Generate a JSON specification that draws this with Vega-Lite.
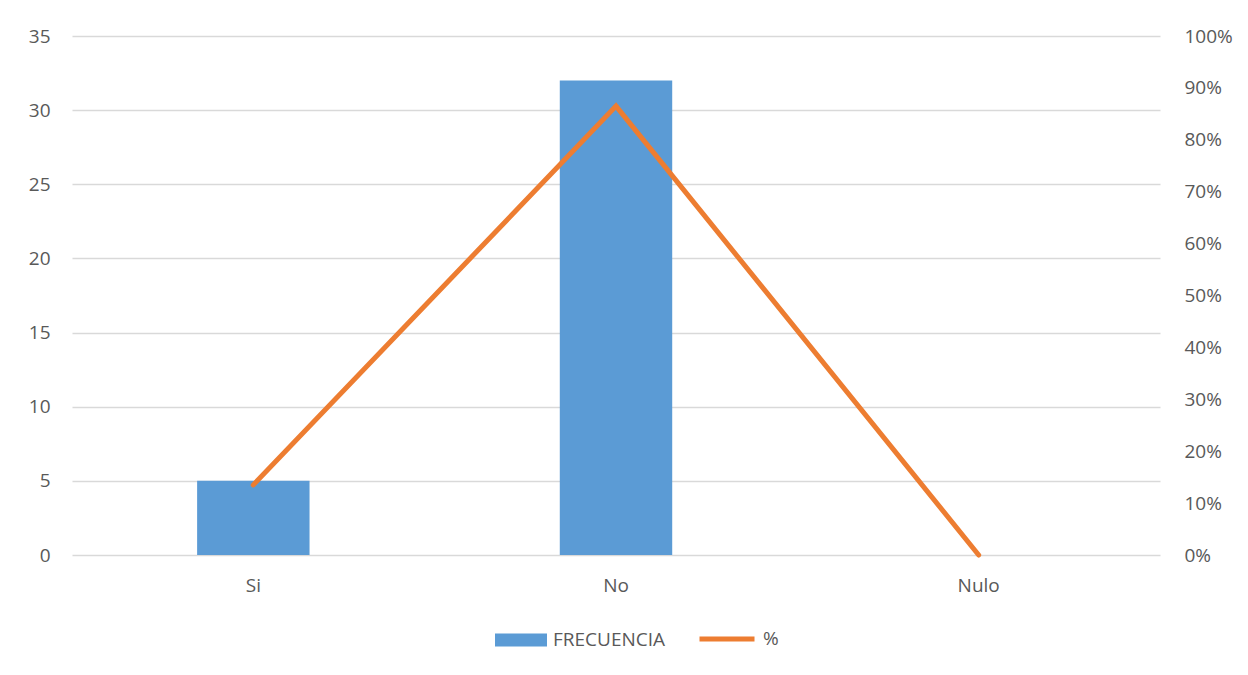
{
  "$schema": "https://vega.github.io/schema/vega-lite/v6.json",
  "width": 1088,
  "height": 519,
  "autosize": {"type": "none"},
  "padding": {"left": 72, "top": 36, "right": 88, "bottom": 120},
  "background": "white",
  "config": {
    "view": {"stroke": null},
    "font": "Open Sans",
    "axis": {"labelFont": "Open Sans", "labelFontSize": 19, "labelColor": "#595959", "domain": false, "ticks": false},
    "legend": {"labelFont": "Open Sans", "labelFontSize": 19, "labelColor": "#595959", "labelOffset": 6}
  },
  "data": {
    "values": [
      {"cat": "Si", "frecuencia": 5, "pct": 0.1351},
      {"cat": "No", "frecuencia": 32, "pct": 0.8649},
      {"cat": "Nulo", "frecuencia": 0, "pct": 0}
    ]
  },
  "encoding": {
    "x": {
      "field": "cat", "type": "nominal", "sort": ["Si", "No", "Nulo"],
      "scale": {"paddingInner": 0.69, "paddingOuter": 0.345},
      "axis": {"title": null, "labelAngle": 0, "labelPadding": 21, "grid": false}
    }
  },
  "layer": [
    {
      "mark": {"type": "bar", "color": "#5B9BD5"},
      "encoding": {
        "y": {
          "field": "frecuencia", "type": "quantitative",
          "scale": {"domain": [0, 35], "nice": false},
          "axis": {"title": null, "values": [0, 5, 10, 15, 20, 25, 30, 35], "labelPadding": 22, "grid": true, "gridColor": "#D9D9D9", "gridWidth": 1.3}
        },
        "fill": {
          "datum": "FRECUENCIA", "type": "nominal",
          "scale": {"range": ["#5B9BD5"]},
          "legend": {"title": null, "orient": "none", "legendX": 423, "legendY": 578, "symbolType": "M-1,-0.25H1V0.25H-1Z", "symbolSize": 2704, "symbolStrokeWidth": 0, "symbolOpacity": 1}
        }
      }
    },
    {
      "mark": {"type": "line", "strokeWidth": 5, "strokeCap": "round", "strokeJoin": "miter"},
      "encoding": {
        "y": {
          "field": "pct", "type": "quantitative",
          "scale": {"domain": [0, 1], "nice": false},
          "axis": {"title": null, "orient": "right", "format": ".0%", "values": [0, 0.1, 0.2, 0.3, 0.4, 0.5, 0.6, 0.7, 0.8, 0.9, 1], "labelPadding": 24, "grid": false}
        },
        "stroke": {
          "datum": "%", "type": "nominal",
          "scale": {"range": ["#ED7D31"]},
          "legend": {"title": null, "orient": "none", "legendX": 625, "legendY": 573, "symbolType": "stroke", "symbolSize": 3025, "symbolStrokeWidth": 5}
        }
      }
    }
  ],
  "resolve": {"scale": {"y": "independent"}}
}
